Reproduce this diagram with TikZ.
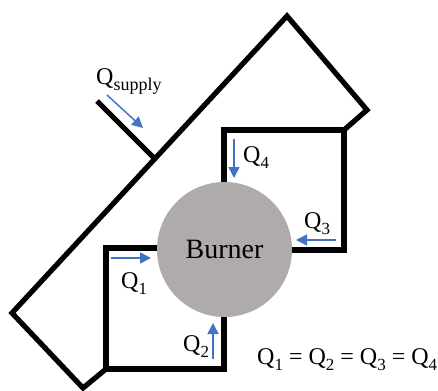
\documentclass[tikz,border=0pt]{standalone}
\usepackage{fontspec}
\setmainfont{Liberation Serif}
\definecolor{burnergray}{HTML}{AFABAB}
\definecolor{flowblue}{HTML}{4472C4}
\newcommand{\sbs}[1]{\raisebox{-0.25em}{\fontsize{17}{17}\selectfont #1}}
\usetikzlibrary{arrows.meta}
\tikzset{
  x=1pt,y=-1pt,
  wall/.style={draw=black,line width=5.2pt,line join=miter,line cap=butt},
  thickwall/.style={draw=black,line width=6.2pt,line join=miter},
  flow/.style={draw=flowblue,line width=1.5pt,-{Triangle[length=11pt,width=11pt]}},
  lab/.style={font=\fontsize{24}{24}\selectfont,inner sep=0pt,text=black}
}
\begin{document}
\begin{tikzpicture}
\useasboundingbox (0,0) rectangle (438,390);
\coordinate (apex) at (287,16);
\coordinate (right) at (367,110);
\coordinate (joinR) at (344,130);
\coordinate (tl) at (224,130);
\coordinate (t4) at (224,190);
\coordinate (br) at (344,250);
\coordinate (b3) at (285,250);
\coordinate (left) at (12,313);
\coordinate (bottom) at (83,388);
\coordinate (joinL) at (106,369);
\coordinate (lt) at (106,248);
\coordinate (l1) at (165,248);
\coordinate (lb) at (224,369);
\coordinate (l2) at (224,310);
\coordinate (sup) at (97,101);
\coordinate (supEnd) at (154,158);
\draw[wall] (joinL) -- (bottom) -- (left) -- (apex) -- (right) -- (joinR);
\draw[wall] (sup) -- (supEnd);
\draw[wall] (t4) -- (tl) -- (joinR);
\draw[thickwall] (joinR) -- (br) -- (b3);
\draw[wall] (l1) -- (lt) -- (joinL);
\draw[wall] (joinL) -- (lb) -- (l2);
\node[circle,fill=burnergray,minimum size=135pt,inner sep=0pt,font=\fontsize{28}{28}\selectfont] (burner) at (224.5,249.5) {Burner};
\coordinate (a1) at (111,258); \coordinate (b1) at (151,258);
\coordinate (a2) at (213,359); \coordinate (b2) at (213,323);
\coordinate (a3) at (336,240); \coordinate (b3a) at (296,240);
\coordinate (a4) at (234,139); \coordinate (b4) at (234,178);
\coordinate (a5) at (107,95); \coordinate (b5) at (143,128);
\draw[flow] (a1) -- (b1);
\draw[flow] (a2) -- (b2);
\draw[flow] (a3) -- (b3a);
\draw[flow] (a4) -- (b4);
\draw[flow] (a5) -- (b5);
\node[lab,anchor=base west] (q1) at (121,288) {Q\sbs{1}};
\node[lab,anchor=base west] (q2) at (183,351) {Q\sbs{2}};
\node[lab,anchor=base west] (q3) at (304,228) {Q\sbs{3}};
\node[lab,anchor=base west] (q4) at (243,162) {Q\sbs{4}};
\node[lab,anchor=base west] (qs) at (96,85) {Q\sbs{\fontsize{18}{18}\selectfont supply}};
\node[lab,anchor=base west] (eq) at (257,364) {Q\sbs{1} = Q\sbs{2} = Q\sbs{3} = Q\sbs{4}};
\end{tikzpicture}
\end{document}
